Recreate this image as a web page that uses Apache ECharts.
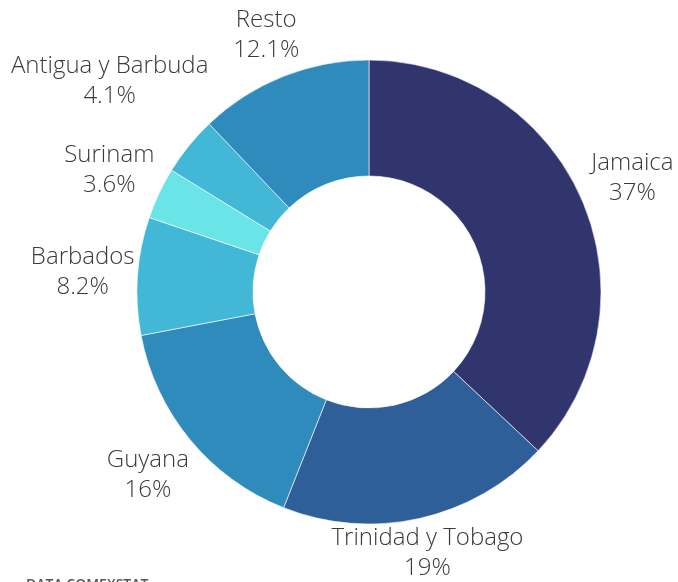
<!DOCTYPE html>
<html>
<head>
<meta charset="utf-8">
<script src="https://cdn.jsdelivr.net/npm/echarts@6/dist/echarts.min.js"></script>
<style>
html,body{margin:0;padding:0;background:#fff;}
#c{width:678px;height:582px;}
</style>
</head>
<body>
<div id="c"></div>
<script>
const categories = ['Jamaica', 'Trinidad y Tobago', 'Guyana', 'Barbados', 'Surinam', 'Antigua y Barbuda', 'Resto'];
const values = [37, 19, 16, 8.2, 3.6, 4.1, 12.1];
const colors = ['#31356e', '#2e5f98', '#2e8bbc', '#42b7d6', '#6be4e8', '#42b7d6', '#2e8bbc'];
const sourceText = 'DATA COMEXSTAT';

// per-label distance of the label from the ring (label placement only)
const labelLengthOverride = {'Antigua y Barbuda': 102, 'Trinidad y Tobago': 36, 'Resto': 45};

const chart = echarts.init(document.getElementById('c'), null, {renderer: 'canvas'});
chart.setOption({
  animation: false,
  backgroundColor: '#fff',
  graphic: [{
    type: 'text', left: 26, top: 578,
    style: {text: sourceText, fill: '#555', font: '600 14px "Open Sans"'}
  }],
  series: [{
    type: 'pie',
    center: [369, 292],
    radius: [116, 232],
    startAngle: 90,
    clockwise: true,
    avoidLabelOverlap: false,
    itemStyle: {borderColor: '#ffffff', borderWidth: 0.6},
    label: {
      show: true,
      position: 'outside',
      distanceToLabelLine: 0,
      overflow: 'none',
      fontFamily: 'Open Sans',
      fontWeight: 300,
      fontSize: 24,
      lineHeight: 30,
      color: '#3a3a3a',
      formatter: p => p.name + '\n' + p.value + '%'
    },
    labelLine: {show: false, length: 55, length2: 0},
    labelLayout: () => ({align: 'center', verticalAlign: 'middle'}),
    emphasis: {disabled: true},
    data: categories.map((n, i) => {
      const item = {name: n, value: values[i], itemStyle: {color: colors[i]}};
      if (labelLengthOverride[n]) item.labelLine = {show: false, length: labelLengthOverride[n], length2: 0};
      return item;
    })
  }]
});
</script>
</body>
</html>
